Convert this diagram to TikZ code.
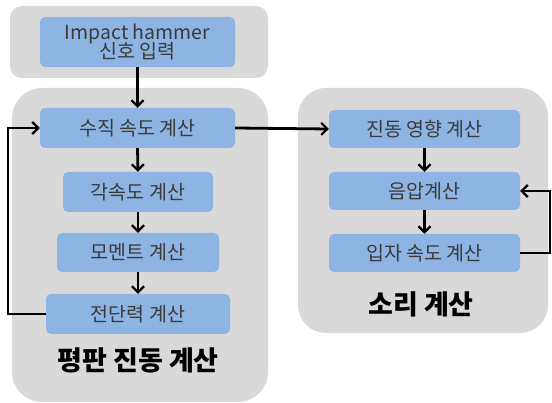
\documentclass[tikz,border=0pt]{standalone}
\usepackage{fontspec}
\setmainfont{Noto Sans CJK KR}
\usetikzlibrary{arrows.meta}
\definecolor{panel}{HTML}{D9D9D9}
\definecolor{boxblue}{HTML}{8DB4E2}
\definecolor{boxtext}{HTML}{3A3A3A}
\tikzset{
  panelbox/.style={fill=panel, draw=none, rounded corners=#1},
  stepbox/.style={fill=boxblue, draw=none, rounded corners=5pt, text=boxtext,
    font=\fontsize{19.5}{21}\selectfont, align=center, inner sep=0pt},
  title/.style={font=\fontsize{27}{30}\selectfont\bfseries, text=black},
  conn/.style={line width=2.8pt, -{Straight Barb[length=6pt,width=12pt,line width=2.2pt]}},
}
\begin{document}
\begin{tikzpicture}[x=1pt,y=-1pt]
\useasboundingbox (0,0) rectangle (552,403);
% panels
\fill[panelbox=12pt] (10,6) rectangle (268,78);
\fill[panelbox=30pt] (12,88) rectangle (268,402);
\fill[panelbox=28pt] (298,88) rectangle (548,333);
% left steps
\node[stepbox, minimum width=195pt, minimum height=50pt] (imp) at (137.5,42) {Impact hammer\\[-2pt]신호 입력};
\node[stepbox, minimum width=195pt, minimum height=40pt] (vv) at (137.5,128) {수직 속도 계산};
\node[stepbox, minimum width=150pt, minimum height=40pt] (ang) at (138,192) {각속도 계산};
\node[stepbox, minimum width=162pt, minimum height=39pt] (mom) at (138,252.5) {모멘트 계산};
\node[stepbox, minimum width=184pt, minimum height=40pt] (shr) at (138,314) {전단력 계산};
\node[title] (lt) at (138,360) {평판 진동 계산};
% right steps
\node[stepbox, minimum width=191pt, minimum height=38pt] (vib) at (424.5,129) {진동 영향 계산};
\node[stepbox, minimum width=191pt, minimum height=38pt] (snd) at (424.5,191) {음압계산};
\node[stepbox, minimum width=191pt, minimum height=38pt] (par) at (424.5,253) {입자 속도 계산};
\node[title] (rt) at (421,304) {소리 계산};
% connectors
\draw[conn] (imp.south) -- (vv.north);
\draw[conn] (vv.south) -- (ang.north);
\draw[conn] (ang.south) -- (mom.north);
\draw[conn] (mom.south) -- (shr.north);
\draw[conn] (vib.south) -- (snd.north);
\draw[conn] (snd.south) -- (par.north);
\draw[conn] (vv.east) -- (vib.west);
\coordinate (lb) at (8,0);
\draw[conn] (shr.west) -- (shr.west -| lb) -- (vv.west -| lb) -- (vv.west);
\coordinate (rb) at (550,0);
\draw[conn] (par.east) -- (par.east -| rb) -- (snd.east -| rb) -- (snd.east);
\end{tikzpicture}
\end{document}
